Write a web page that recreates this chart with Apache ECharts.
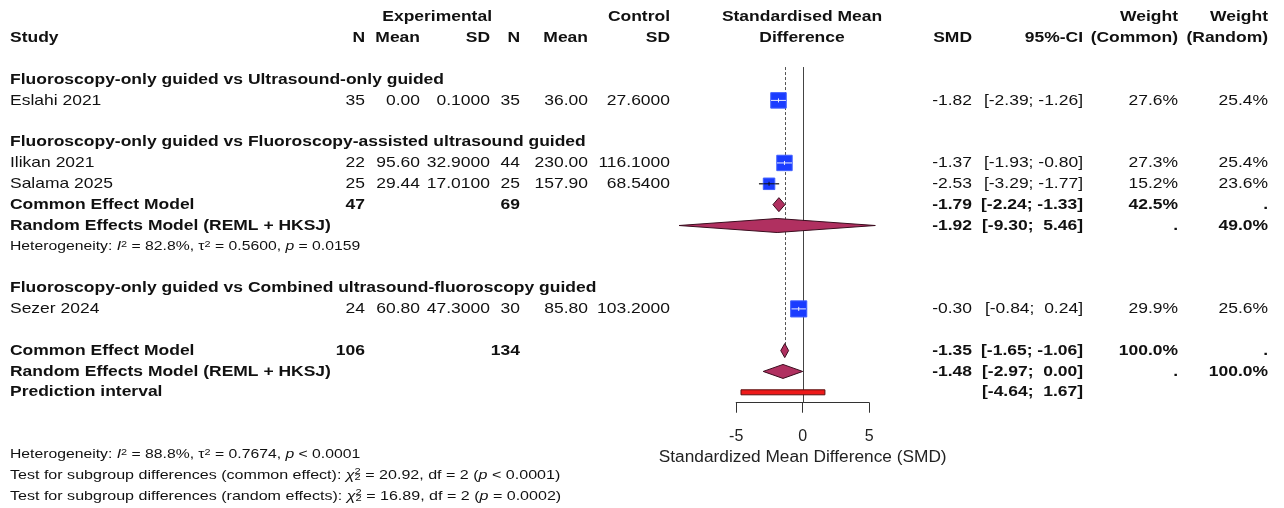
<!DOCTYPE html>
<html><head><meta charset="utf-8">
<script src="https://cdn.jsdelivr.net/npm/echarts@6/dist/echarts.min.js"></script>
<style>html,body{margin:0;padding:0;background:#fff}#c{width:1284px;height:508px}</style>
</head><body><div id="c"></div>
<script>
// ---------------- DATA ----------------
const studies   = ['Eslahi 2021', 'Ilikan 2021', 'Salama 2025', 'Sezer 2024'];
const studyRows = [4, 7, 8, 14];
const expN      = ['35', '22', '25', '24'];
const expMean   = ['0.00', '95.60', '29.44', '60.80'];
const expSD     = ['0.1000', '32.9000', '17.0100', '47.3000'];
const ctrlN     = ['35', '44', '25', '30'];
const ctrlMean  = ['36.00', '230.00', '157.90', '85.80'];
const ctrlSD    = ['27.6000', '116.1000', '68.5400', '103.2000'];
const smd       = [-1.82, -1.37, -2.53, -0.30];
const ciLow     = [-2.39, -1.93, -3.29, -0.84];
const ciHigh    = [-1.26, -0.80, -1.77, 0.24];
const wCommon   = [27.6, 27.3, 15.2, 29.9];
const wRandom   = [25.4, 25.4, 23.6, 25.6];

const groupTitles = ['Fluoroscopy-only guided vs Ultrasound-only guided',
                     'Fluoroscopy-only guided vs Fluoroscopy-assisted ultrasound guided',
                     'Fluoroscopy-only guided vs Combined ultrasound-fluoroscopy guided'];
const groupRows = [3, 6, 13];

const sumLabels = ['Common Effect Model', 'Random Effects Model (REML + HKSJ)',
                   'Common Effect Model', 'Random Effects Model (REML + HKSJ)'];
const sumRows   = [9, 10, 16, 17];
const sumExpN   = ['47', '', '106', ''];
const sumCtrlN  = ['69', '', '134', ''];
const sumEst    = [-1.79, -1.92, -1.35, -1.48];
const sumLow    = [-2.24, -9.30, -1.65, -2.97];
const sumHigh   = [-1.33, 5.46, -1.06, 0.00];
const sumWC     = ['42.5%', '.', '100.0%', '.'];
const sumWR     = ['.', '49.0%', '.', '100.0%'];

const predLabel = 'Prediction interval';
const predRow   = 18;
const predLow   = -4.64;
const predHigh  = 1.67;

const overallCommon = -1.35;
const axisTicks = [-5, 0, 5];
const axisTitle = 'Standardized Mean Difference (SMD)';

// ---------------- LAYOUT ----------------
const FONT = '"Liberation Sans", Arial, Helvetica, sans-serif';
const FS = 15, SX = 1.165, FSS = 13, SSX = 1.21, TSX = 1.235;
const ROW0 = 17, ROWH = 20.85, NROWS = 23;
const X0 = 802.7, UNIT = 13.3, XMIN = -10, XMAX = 6;
const col = {study: 10, expN: 365, expMean: 420, expSD: 490, ctrlN: 520, ctrlMean: 588, ctrlSD: 670,
             smd: 972, ci: 1083, wc: 1178, wr: 1268, mid: 802};

function rowY(r) { return ROW0 + ROWH * r; }
function fmt(v) { return v.toFixed(2); }
function ci(l, h) { return '[' + fmt(l) + '; ' + (h >= 0 ? ' ' : '') + fmt(h) + ']'; }

const chart = echarts.init(document.getElementById('c'), null, {renderer: 'canvas'});

const graphics = [];
function T(x, r, s, align, bold) {
  graphics.push({type: 'text', x: x, y: rowY(r), scaleX: SX, silent: true, style: {
    text: s, fontFamily: FONT, fontSize: FS, fontWeight: bold ? 'bold' : 'normal',
    textAlign: align || 'left', align: align || 'left',
    textVerticalAlign: 'middle', verticalAlign: 'middle', fill: '#111'}});
}

// headers
T(col.expSD + 2, 0, 'Experimental', 'right', true);
T(col.ctrlSD, 0, 'Control', 'right', true);
T(col.mid, 0, 'Standardised Mean', 'center', true);
T(col.wc, 0, 'Weight', 'right', true);
T(col.wr, 0, 'Weight', 'right', true);
T(col.study, 1, 'Study', 'left', true);
T(col.expN, 1, 'N', 'right', true);
T(col.expMean, 1, 'Mean', 'right', true);
T(col.expSD, 1, 'SD', 'right', true);
T(col.ctrlN, 1, 'N', 'right', true);
T(col.ctrlMean, 1, 'Mean', 'right', true);
T(col.ctrlSD, 1, 'SD', 'right', true);
T(col.mid, 1, 'Difference', 'center', true);
T(col.smd, 1, 'SMD', 'right', true);
T(col.ci, 1, '95%-CI', 'right', true);
T(col.wc, 1, '(Common)', 'right', true);
T(col.wr, 1, '(Random)', 'right', true);

groupTitles.forEach((g, i) => T(col.study, groupRows[i], g, 'left', true));

studies.forEach((s, i) => {
  const r = studyRows[i];
  T(col.study, r, s);
  T(col.expN, r, expN[i], 'right');
  T(col.expMean, r, expMean[i], 'right');
  T(col.expSD, r, expSD[i], 'right');
  T(col.ctrlN, r, ctrlN[i], 'right');
  T(col.ctrlMean, r, ctrlMean[i], 'right');
  T(col.ctrlSD, r, ctrlSD[i], 'right');
  T(col.smd, r, fmt(smd[i]), 'right');
  T(col.ci, r, ci(ciLow[i], ciHigh[i]), 'right');
  T(col.wc, r, wCommon[i].toFixed(1) + '%', 'right');
  T(col.wr, r, wRandom[i].toFixed(1) + '%', 'right');
});

sumLabels.forEach((s, i) => {
  const r = sumRows[i];
  T(col.study, r, s, 'left', true);
  if (sumExpN[i]) T(col.expN, r, sumExpN[i], 'right', true);
  if (sumCtrlN[i]) T(col.ctrlN, r, sumCtrlN[i], 'right', true);
  T(col.smd, r, fmt(sumEst[i]), 'right', true);
  T(col.ci, r, ci(sumLow[i], sumHigh[i]), 'right', true);
  T(col.wc, r, sumWC[i], 'right', true);
  T(col.wr, r, sumWR[i], 'right', true);
});
T(col.study, predRow, predLabel, 'left', true);
T(col.ci, predRow, ci(predLow, predHigh), 'right', true);

// heterogeneity / test lines (rich text)
const rich = {
  it: {fontStyle: 'italic', fontSize: FSS, fontFamily: FONT, fill: '#111'},
  sup: {fontSize: 9, fontFamily: FONT, verticalAlign: 'top', fill: '#111'},
  sub: {fontSize: 9, fontFamily: FONT, verticalAlign: 'bottom', fill: '#111'}
};
function richLine(r, s, sx) {
  graphics.push({type: 'text', x: col.study, y: rowY(r), scaleX: sx, silent: true,
    style: {text: s, rich: rich, fontSize: FSS, fontFamily: FONT, fill: '#111',
            textAlign: 'left', align: 'left', textVerticalAlign: 'middle', verticalAlign: 'middle'}});
}
const hetTexts = [
  [11, 'Heterogeneity: {it|I}{sup|2} = 82.8%, τ{sup|2} = 0.5600, {it|p} = 0.0159'],
  [21, 'Heterogeneity: {it|I}{sup|2} = 88.8%, τ{sup|2} = 0.7674, {it|p} < 0.0001']
];
hetTexts.forEach(h => richLine(h[0], h[1], SSX));

const ctx = document.createElement('canvas').getContext('2d');
const testLines = [
  [22, 'Test for subgroup differences (common effect): ', ' = 20.92, df = 2 (', ' < 0.0001)'],
  [23, 'Test for subgroup differences (random effects): ', ' = 16.89, df = 2 (', ' = 0.0002)']
];
testLines.forEach(t => {
  richLine(t[0], t[1] + '{it|χ}{sub|2}' + t[2] + '{it|p}' + t[3], TSX);
  ctx.font = FSS + 'px ' + FONT;
  let w = ctx.measureText(t[1]).width;
  ctx.font = 'italic ' + FSS + 'px ' + FONT;
  w += ctx.measureText('χ').width;
  graphics.push({type: 'text', x: col.study + w * TSX, y: rowY(t[0]) - 4, scaleX: TSX, silent: true,
    style: {text: '2', fontSize: 9, fontFamily: FONT, fill: '#111', textAlign: 'left', align: 'left',
            textVerticalAlign: 'middle', verticalAlign: 'middle'}});
});

// ---------------- MARKS ----------------
const studyData = studies.map((s, i) => [ciLow[i], smd[i], ciHigh[i], studyRows[i], wCommon[i]]);
const sumData = sumRows.map((r, i) => [sumLow[i], sumEst[i], sumHigh[i], r]);
const topRow = groupRows[0] - 0.6;
const refLines = [[0, topRow, predRow + 0.5, 'solid'], [overallCommon, topRow, sumRows[2], 'dashed']];

const option = {
  animation: false,
  grid: [
    {left: X0 + XMIN * UNIT, width: (XMAX - XMIN) * UNIT, top: ROW0, height: ROWH * NROWS},
    {left: X0 - 5 * UNIT, width: 10 * UNIT, top: rowY(predRow + 0.5) - 10, height: 10}
  ],
  xAxis: [
    {gridIndex: 0, type: 'value', min: XMIN, max: XMAX, show: false},
    {gridIndex: 1, type: 'value', min: -5, max: 5, interval: 5, position: 'bottom',
     axisLine: {show: true, lineStyle: {color: '#333', width: 1}},
     axisTick: {show: true, length: 10, lineStyle: {color: '#333'}},
     splitLine: {show: false},
     axisLabel: {fontSize: 16, fontFamily: FONT, color: '#222', margin: 26},
     name: axisTitle, nameLocation: 'middle', nameGap: 46,
     nameTextStyle: {fontSize: 17.3, fontFamily: FONT, color: '#222'}}
  ],
  yAxis: [
    {gridIndex: 0, type: 'value', min: 0, max: NROWS, inverse: true, show: false},
    {gridIndex: 1, type: 'value', min: 0, max: 1, show: false}
  ],
  series: [
    {type: 'custom', xAxisIndex: 0, yAxisIndex: 0, data: refLines, silent: true, z: 1,
     renderItem: (p, api) => {
       const a = api.coord([api.value(0), api.value(1)]);
       const b = api.coord([api.value(0), api.value(2)]);
       const dashed = refLines[p.dataIndex][3] === 'dashed';
       return {type: 'line', shape: {x1: Math.round(a[0]) + 0.5, y1: a[1], x2: Math.round(a[0]) + 0.5, y2: b[1]},
               style: {stroke: dashed ? '#555' : '#444', lineWidth: 1, lineDash: dashed ? [3, 2] : null}};
     }},
    {type: 'custom', xAxisIndex: 0, yAxisIndex: 0, data: studyData, silent: true, z: 3,
     renderItem: (p, api) => {
       const lo = api.coord([api.value(0), api.value(3)]);
       const c = api.coord([api.value(1), api.value(3)]);
       const hi = api.coord([api.value(2), api.value(3)]);
       const size = 2.95 * Math.sqrt(api.value(4));
       const h = size / 2;
       const inside = lo[0] >= c[0] - h - 0.6 && hi[0] <= c[0] + h + 0.6;
       const y = c[1];
       const ch = [];
       ch.push({type: 'line', shape: {x1: lo[0], y1: y, x2: hi[0], y2: y}, style: {stroke: '#111', lineWidth: 1.2}});
       ch.push({type: 'rect', shape: {x: c[0] - h, y: y - h, width: size, height: size},
                style: {fill: '#1a3cff', stroke: '#4060ff', lineWidth: 1}});
       ch.push({type: 'line', shape: {x1: Math.max(lo[0], c[0] - h), y1: y, x2: Math.min(hi[0], c[0] + h), y2: y},
                style: {stroke: inside ? '#e8ecff' : '#111', lineWidth: 1}});
       ch.push({type: 'line', shape: {x1: c[0], y1: y - 2, x2: c[0], y2: y + 2},
                style: {stroke: inside ? '#e8ecff' : '#111', lineWidth: 1}});
       return {type: 'group', children: ch};
     }},
    {type: 'custom', xAxisIndex: 0, yAxisIndex: 0, data: sumData, silent: true, z: 3,
     renderItem: (p, api) => {
       const lo = api.coord([api.value(0), api.value(3)]);
       const c = api.coord([api.value(1), api.value(3)]);
       const hi = api.coord([api.value(2), api.value(3)]);
       const hh = 7;
       return {type: 'polygon', shape: {points: [[lo[0], c[1]], [c[0], c[1] - hh], [hi[0], c[1]], [c[0], c[1] + hh]]},
               style: {fill: '#b03060', stroke: '#3a0c1e', lineWidth: 1}};
     }},
    {type: 'custom', xAxisIndex: 0, yAxisIndex: 0, data: [[predLow, predHigh, predRow]], silent: true, z: 3,
     renderItem: (p, api) => {
       const a = api.coord([api.value(0), api.value(2)]);
       const b = api.coord([api.value(1), api.value(2)]);
       return {type: 'rect', shape: {x: a[0], y: a[1] - 2.5, width: b[0] - a[0], height: 5},
               style: {fill: '#ee1a1a', stroke: '#5a1010', lineWidth: 1}};
     }}
  ],
  graphic: graphics
};
chart.setOption(option);
</script></body></html>
